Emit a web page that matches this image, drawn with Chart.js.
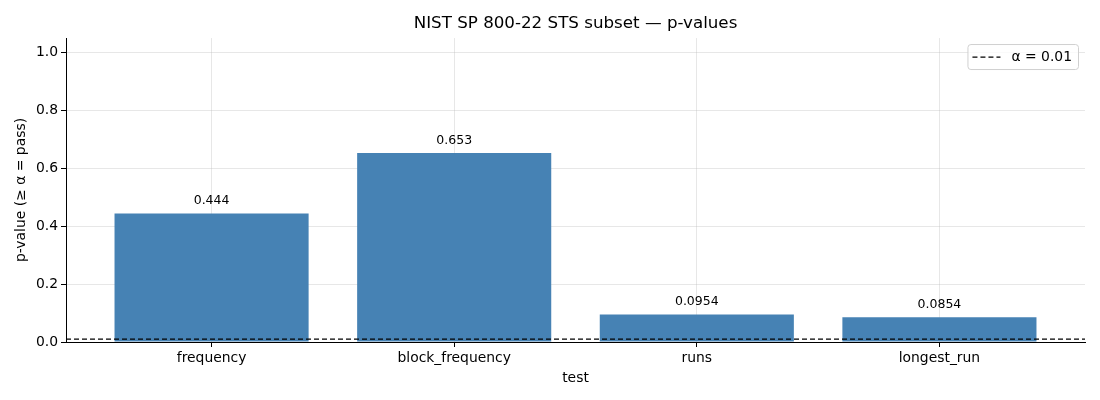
<!DOCTYPE html>
<html>
<head>
<meta charset="utf-8">
<script src="https://cdn.jsdelivr.net/npm/chart.js@4.4.1/dist/chart.umd.min.js"></script>
<style>
  html, body { margin: 0; padding: 0; background: #fff; }
  #wrap { width: 1100px; height: 400px; }
</style>
</head>
<body>
<div id="wrap"><canvas id="chart"></canvas></div>
<script>
// p-values of the STS subset
const tests = ['frequency', 'block_frequency', 'runs', 'longest_run'];
const pValues = [0.444, 0.653, 0.0954, 0.0854];
const alpha = 0.01;
const yTicks = [0, 0.2, 0.4, 0.6, 0.8, 1.0];

const FONT = "'DejaVu Sans', sans-serif";
const TICK_SIZE = 13.9;

// value labels above each bar
const barLabels = {
  id: 'barLabels',
  afterDatasetsDraw(chart) {
    const ctx = chart.ctx;
    const meta = chart.getDatasetMeta(1);
    ctx.save();
    ctx.font = '12.5px ' + FONT;
    ctx.fillStyle = '#000';
    ctx.textAlign = 'center';
    ctx.textBaseline = 'bottom';
    meta.data.forEach((bar, i) => {
      ctx.fillText(pValues[i].toPrecision(3), bar.x, bar.y - 6);
    });
    ctx.restore();
  }
};

// matplotlib style legend box in the upper right of the plot
const cornerLegend = {
  id: 'cornerLegend',
  afterDraw(chart) {
    const ds = chart.data.datasets[0];
    const area = chart.chartArea;
    const ctx = chart.ctx;
    ctx.save();
    ctx.font = TICK_SIZE + 'px ' + FONT;
    const tw = ctx.measureText(ds.label).width;
    const w = 5 + 28 + 11 + tw + 6;
    const h = 25;
    const x = area.right - 7 - w;
    const y = area.top + 6;
    ctx.fillStyle = 'rgba(255,255,255,0.8)';
    ctx.strokeStyle = '#d0d0d0';
    ctx.lineWidth = 1;
    ctx.beginPath();
    ctx.roundRect(x + 0.5, y + 0.5, w, h, 3);
    ctx.fill();
    ctx.stroke();
    ctx.strokeStyle = ds.borderColor;
    ctx.lineWidth = ds.borderWidth;
    ctx.setLineDash(ds.borderDash);
    ctx.beginPath();
    ctx.moveTo(x + 5, y + h / 2 + 0.5);
    ctx.lineTo(x + 33, y + h / 2 + 0.5);
    ctx.stroke();
    ctx.setLineDash([]);
    ctx.fillStyle = '#000';
    ctx.textBaseline = 'middle';
    ctx.fillText(ds.label, x + 44, y + h / 2 + 1);
    ctx.restore();
  }
};

new Chart(document.getElementById('chart'), {
  data: {
    datasets: [
      {
        type: 'line',
        label: 'α = ' + alpha,
        data: [{ x: -0.6, y: alpha }, { x: tests.length - 0.4, y: alpha }],
        borderColor: '#000',
        backgroundColor: '#000',
        borderWidth: 1.3,
        borderDash: [5, 3],
        pointRadius: 0,
        order: 0
      },
      {
        type: 'bar',
        label: 'p-value',
        data: tests.map((t, i) => ({ x: i, y: pValues[i] })),
        backgroundColor: '#4682b4',
        borderWidth: 0,
        barPercentage: 0.8,
        categoryPercentage: 1.0,
        order: 1
      }
    ]
  },
  options: {
    responsive: true,
    maintainAspectRatio: false,
    animation: false,
    layout: { padding: { left: 0, right: 15, top: 0, bottom: 0 } },
    plugins: {
      title: {
        display: true,
        fullSize: false,
        text: 'NIST SP 800-22 STS subset — p-values',
        color: '#000',
        font: { family: FONT, size: 16.7, weight: 'normal' },
        padding: { top: 14, bottom: 4 }
      },
      legend: { display: false },
      tooltip: { enabled: false }
    },
    scales: {
      x: {
        type: 'linear',
        min: -0.6,
        max: tests.length - 0.4,
        offset: false,
        z: 1,
        afterBuildTicks: scale => { scale.ticks = tests.map((t, i) => ({ value: i })); },
        afterFit: scale => { scale.height = 58; },
        ticks: {
          callback: v => tests[v],
          color: '#000',
          font: { family: FONT, size: TICK_SIZE },
          padding: 3,
          maxRotation: 0
        },
        grid: { offset: false, color: 'rgba(176,176,176,0.3)', tickColor: '#000', tickLength: 5 },
        border: { display: true, color: '#000', width: 1 },
        title: {
          display: true,
          text: 'test',
          color: '#000',
          font: { family: FONT, size: TICK_SIZE },
          padding: { top: 4, bottom: 13 }
        }
      },
      y: {
        min: 0,
        max: 1.05,
        z: 1,
        afterBuildTicks: scale => { scale.ticks = yTicks.map(v => ({ value: v })); },
        afterFit: scale => { scale.width = 66; },
        ticks: {
          callback: v => v.toFixed(1),
          color: '#000',
          font: { family: FONT, size: TICK_SIZE },
          padding: 3
        },
        grid: { color: 'rgba(176,176,176,0.3)', tickColor: '#000', tickLength: 5 },
        border: { display: true, color: '#000', width: 1 },
        title: {
          display: true,
          text: 'p-value (≥ α = pass)',
          color: '#000',
          font: { family: FONT, size: TICK_SIZE },
          padding: { top: 13, bottom: 0 }
        }
      }
    }
  },
  plugins: [barLabels, cornerLegend]
});
</script>
</body>
</html>
